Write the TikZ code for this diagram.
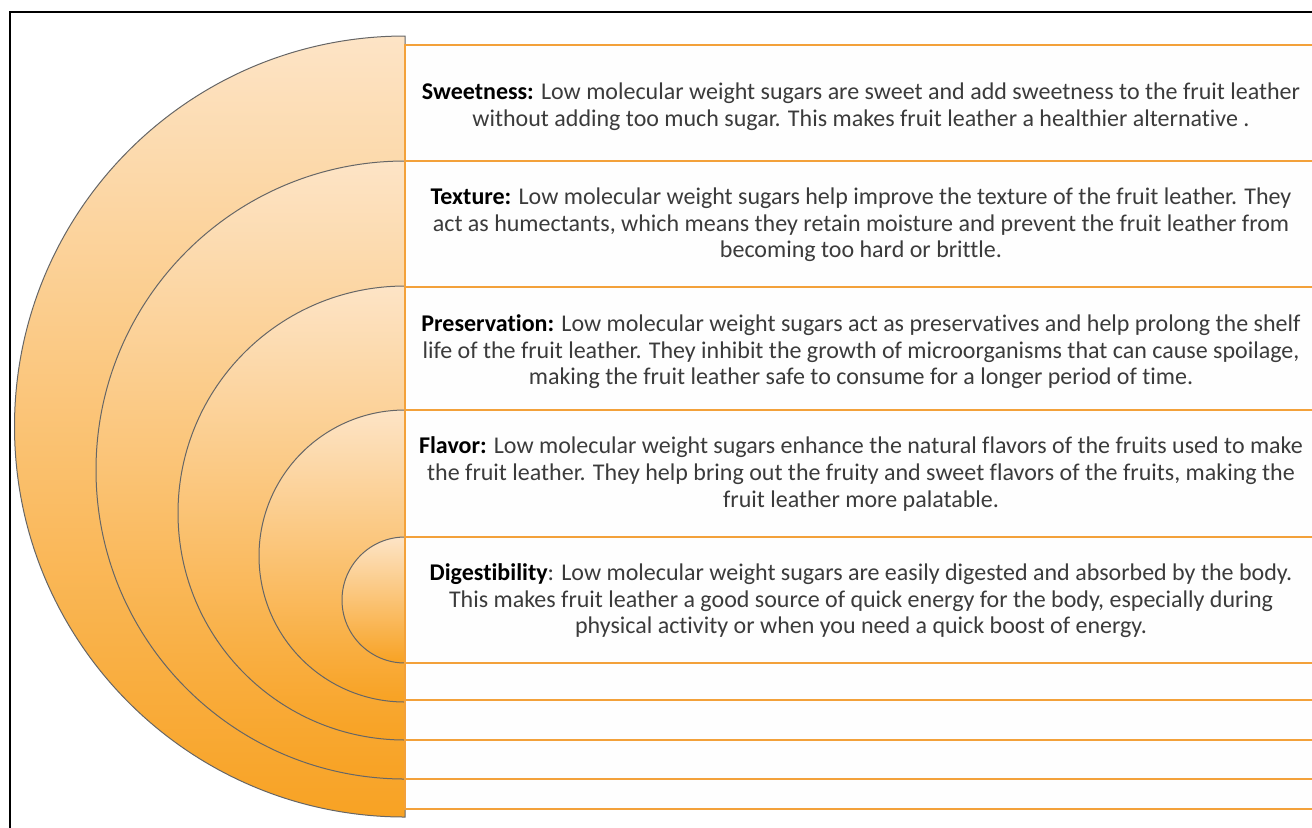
\documentclass[tikz,border=0pt]{standalone}
\usepackage{fontspec}
\setmainfont{Carlito}[Ligatures=NoCommon]
\usepackage{tikz}
\definecolor{peach}{HTML}{FDE4C6}
\definecolor{tangerine}{HTML}{F8A223}
\definecolor{rim}{HTML}{F3A13A}
\definecolor{ink}{HTML}{3B3B3B}
\newcommand\benefit[1]{\textbf{\color{black}#1}}

\begin{document}
\begin{tikzpicture}[x=0.5pt, y=-0.5pt, every node/.style={font=\fontsize{12}{13.3}\selectfont, text=ink, align=center}]
    \tikzset{ring/.style={draw=black!60, line width=0.5pt, top color=peach, bottom color=tangerine},
             band/.style={draw=rim, line width=1pt, fill=white!99.5!black}}
    \useasboundingbox (0,0) rectangle (1312,827);
    \clip (0,0) rectangle (1312,827);

    % outer frame
    \draw[line width=1pt] (10,12) rectangle (1340,850);

    % nested half discs, outer first
    \draw[ring] (405,36) arc[start angle=270, end angle=90, radius=390.5] -- cycle;
    \draw[ring] (405,161) arc[start angle=270, end angle=90, radius=309] -- cycle;
    \draw[ring] (405,286) arc[start angle=270, end angle=90, radius=227] -- cycle;
    \draw[ring] (405,410) arc[start angle=270, end angle=90, radius=146] -- cycle;
    \draw[ring] (405,537) arc[start angle=270, end angle=90, radius=63] -- cycle;

    % text bands
    \draw[band] (405,45) rectangle (1318,809);
    \draw[band] (405,161) rectangle (1318,779);
    \draw[band] (405,287) rectangle (1318,740);
    \draw[band] (405,410) rectangle (1318,700);
    \draw[band] (405,537) rectangle (1318,663);

    \node (sweet) at (861,107) {\benefit{Sweetness:} Low molecular weight sugars are sweet and add sweetness to the fruit leather\\
        without adding too much sugar. This makes fruit leather a healthier alternative .};
    \node (texture) at (861,225) {\benefit{Texture:} Low molecular weight sugars help improve the texture of the fruit leather. They\\
        act as humectants, which means they retain moisture and prevent the fruit leather from\\
        becoming too hard or brittle.};
    \node (preserve) at (861,352) {\benefit{Preservation:} Low molecular weight sugars act as preservatives and help prolong the shelf\\
        life of the fruit leather. They inhibit the growth of microorganisms that can cause spoilage,\\
        making the fruit leather safe to consume for a longer period of time.};
    \node (flavor) at (861,474) {\benefit{Flavor:} Low molecular weight sugars enhance the natural flavors of the fruits used to make\\
        the fruit leather. They help bring out the fruity and sweet flavors of the fruits, making the\\
        fruit leather more palatable.};
    \node (digest) at (861,601) {\benefit{Digestibility}: Low molecular weight sugars are easily digested and absorbed by the body.\\
        This makes fruit leather a good source of quick energy for the body, especially during\\
        physical activity or when you need a quick boost of energy.};
\end{tikzpicture}
\end{document}
